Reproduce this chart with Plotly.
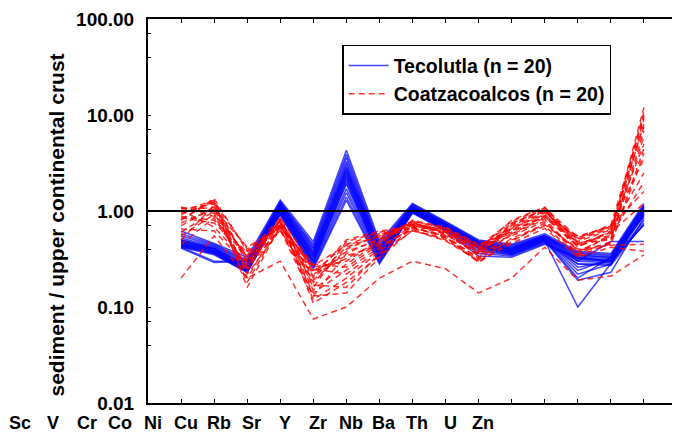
import plotly.graph_objects as go

# Tick labels as printed along the bottom of the chart
elements = ["Sc", "V", "Cr", "Co", "Ni", "Cu", "Rb", "Sr", "Y", "Zr", "Nb", "Ba", "Th", "U", "Zn"]
# Sample positions along the x axis (15 points per profile)
positions = list(range(1, 16))

# Tecolutla (n = 20) normalized values
tecolutla = [
    [0.62, 0.46, 0.33, 1.30, 0.48, 4.30, 0.48, 1.20, 0.78, 0.50, 0.45, 0.58, 0.38, 0.36, 1.20],
    [0.58, 0.45, 0.31, 1.25, 0.45, 3.90, 0.45, 1.18, 0.76, 0.49, 0.44, 0.56, 0.37, 0.35, 1.15],
    [0.55, 0.44, 0.30, 1.22, 0.43, 3.60, 0.43, 1.15, 0.75, 0.48, 0.43, 0.55, 0.36, 0.34, 1.12],
    [0.52, 0.43, 0.29, 1.20, 0.41, 3.30, 0.42, 1.13, 0.74, 0.47, 0.42, 0.55, 0.35, 0.33, 1.10],
    [0.50, 0.42, 0.28, 1.18, 0.40, 3.10, 0.41, 1.12, 0.73, 0.47, 0.41, 0.54, 0.34, 0.33, 1.08],
    [0.50, 0.41, 0.27, 1.15, 0.38, 2.90, 0.40, 1.10, 0.72, 0.46, 0.41, 0.54, 0.33, 0.32, 1.05],
    [0.48, 0.41, 0.27, 1.13, 0.37, 2.80, 0.39, 1.08, 0.71, 0.46, 0.40, 0.53, 0.32, 0.31, 1.02],
    [0.48, 0.40, 0.26, 1.12, 0.36, 2.70, 0.38, 1.07, 0.70, 0.45, 0.40, 0.53, 0.31, 0.30, 1.00],
    [0.47, 0.40, 0.26, 1.10, 0.35, 2.60, 0.37, 1.06, 0.70, 0.45, 0.39, 0.52, 0.30, 0.29, 0.98],
    [0.46, 0.39, 0.25, 1.08, 0.34, 2.50, 0.36, 1.05, 0.69, 0.44, 0.39, 0.52, 0.28, 0.28, 0.96],
    [0.46, 0.39, 0.25, 1.06, 0.33, 2.40, 0.35, 1.04, 0.68, 0.44, 0.38, 0.51, 0.26, 0.30, 0.94],
    [0.45, 0.38, 0.25, 1.05, 0.32, 2.30, 0.35, 1.03, 0.68, 0.43, 0.38, 0.51, 0.24, 0.32, 0.92],
    [0.45, 0.38, 0.24, 1.03, 0.31, 2.20, 0.34, 1.02, 0.67, 0.43, 0.37, 0.50, 0.22, 0.28, 0.90],
    [0.44, 0.37, 0.24, 1.02, 0.30, 2.10, 0.33, 1.01, 0.66, 0.42, 0.37, 0.50, 0.20, 0.33, 0.88],
    [0.44, 0.37, 0.24, 1.00, 0.30, 2.00, 0.33, 1.00, 0.66, 0.42, 0.36, 0.49, 0.19, 0.23, 0.85],
    [0.43, 0.36, 0.23, 0.98, 0.29, 1.90, 0.32, 0.99, 0.65, 0.41, 0.36, 0.49, 0.10, 0.28, 0.80],
    [0.43, 0.36, 0.23, 0.96, 0.28, 1.70, 0.31, 0.98, 0.65, 0.40, 0.35, 0.48, 0.30, 0.48, 0.48],
    [0.42, 0.35, 0.23, 0.94, 0.27, 1.55, 0.30, 0.97, 0.64, 0.38, 0.35, 0.47, 0.28, 0.27, 0.75],
    [0.42, 0.30, 0.30, 0.92, 0.26, 1.40, 0.29, 0.96, 0.63, 0.36, 0.34, 0.46, 0.33, 0.30, 0.72],
    [0.41, 0.29, 0.30, 0.90, 0.25, 1.30, 0.28, 0.95, 0.62, 0.34, 0.33, 0.45, 0.32, 0.30, 0.72],
]

# Coatzacoalcos (n = 20) normalized values
coatzacoalcos = [
    [1.00, 1.10, 0.30, 0.78, 0.20, 0.42, 0.55, 0.75, 0.62, 0.40, 0.80, 1.10, 0.45, 0.60, 12.0],
    [0.80, 1.35, 0.38, 0.72, 0.26, 0.30, 0.50, 0.78, 0.66, 0.44, 0.65, 0.95, 0.52, 0.72, 9.5],
    [1.08, 0.95, 0.24, 0.85, 0.16, 0.48, 0.60, 0.70, 0.58, 0.35, 0.72, 1.05, 0.38, 0.55, 11.0],
    [0.92, 1.25, 0.40, 0.66, 0.28, 0.26, 0.45, 0.80, 0.68, 0.45, 0.58, 0.85, 0.55, 0.68, 7.5],
    [0.60, 1.00, 0.33, 0.80, 0.23, 0.45, 0.58, 0.66, 0.55, 0.32, 0.75, 1.02, 0.42, 0.62, 8.0],
    [1.05, 1.18, 0.20, 0.76, 0.13, 0.36, 0.52, 0.74, 0.60, 0.38, 0.62, 0.90, 0.47, 0.50, 6.0],
    [0.85, 0.75, 0.35, 0.70, 0.25, 0.22, 0.40, 0.72, 0.64, 0.42, 0.55, 0.78, 0.35, 0.58, 10.0],
    [0.98, 1.30, 0.28, 0.82, 0.18, 0.40, 0.56, 0.77, 0.57, 0.36, 0.68, 0.98, 0.50, 0.66, 5.0],
    [0.75, 1.05, 0.42, 0.68, 0.21, 0.50, 0.62, 0.68, 0.53, 0.30, 0.52, 0.72, 0.40, 0.45, 4.0],
    [1.10, 0.88, 0.26, 0.74, 0.15, 0.28, 0.47, 0.79, 0.66, 0.43, 0.78, 1.08, 0.53, 0.70, 3.5],
    [0.50, 1.15, 0.31, 0.78, 0.24, 0.34, 0.44, 0.64, 0.50, 0.31, 0.60, 0.88, 0.44, 0.52, 6.8],
    [0.95, 1.22, 0.22, 0.64, 0.12, 0.20, 0.38, 0.70, 0.61, 0.39, 0.70, 1.00, 0.48, 0.64, 2.5],
    [0.88, 0.80, 0.37, 0.84, 0.27, 0.44, 0.54, 0.73, 0.59, 0.34, 0.57, 0.82, 0.36, 0.48, 9.0],
    [0.70, 1.10, 0.18, 0.72, 0.14, 0.24, 0.42, 0.66, 0.56, 0.37, 0.66, 0.92, 0.46, 0.56, 2.0],
    [1.02, 0.68, 0.29, 0.62, 0.19, 0.38, 0.50, 0.75, 0.63, 0.41, 0.74, 1.04, 0.51, 0.69, 1.6],
    [0.55, 0.92, 0.34, 0.76, 0.17, 0.16, 0.36, 0.62, 0.52, 0.33, 0.50, 0.70, 0.34, 0.46, 4.5],
    [0.82, 1.28, 0.16, 0.70, 0.22, 0.32, 0.48, 0.71, 0.60, 0.40, 0.63, 0.86, 0.43, 0.60, 1.2],
    [0.65, 0.62, 0.27, 0.80, 0.11, 0.18, 0.34, 0.68, 0.54, 0.29, 0.48, 0.75, 0.39, 0.44, 0.45],
    [0.45, 0.85, 0.25, 0.66, 0.13, 0.14, 0.33, 0.63, 0.49, 0.30, 0.46, 0.66, 0.33, 0.42, 0.38],
    [0.20, 0.55, 0.20, 0.30, 0.075, 0.10, 0.20, 0.30, 0.25, 0.14, 0.20, 0.42, 0.19, 0.21, 0.35],
]

y_tickvals = [0.01, 0.1, 1, 10, 100]
y_ticktext = ["0.01", "0.10", "1.00", "10.00", "100.00"]
y_minor = [0.04, 0.07, 0.4, 0.7, 4, 7, 40, 70]

FONT = "Liberation Sans, Arial, sans-serif"
X_MIN, X_MAX = 0, 16

fig = go.Figure()

for i, vals in enumerate(tecolutla):
    fig.add_trace(go.Scatter(
        x=positions, y=vals, mode="lines",
        line=dict(color="rgba(0,0,255,0.72)", width=1.5),
        name="Tecolutla (n = 20)", legendgroup="t", showlegend=(i == 0),
        legendrank=1,
    ))

for i, vals in enumerate(coatzacoalcos):
    fig.add_trace(go.Scatter(
        x=positions, y=vals, mode="lines",
        line=dict(color="rgba(255,0,0,0.8)", width=1.5, dash="6px,4px"),
        name="Coatzacoalcos (n = 20)", legendgroup="c", showlegend=(i == 0),
        legendrank=2,
    ))

# reference line at 1.0
fig.add_shape(type="line", xref="paper", x0=0, x1=1, yref="y", y0=1, y1=1,
              line=dict(color="black", width=2), layer="above")

# bottom labels (printed offset from the data positions, as in the original)
for i, lab in enumerate(elements):
    xp = (i - 3.86 - X_MIN) / (X_MAX - X_MIN)
    fig.add_annotation(x=xp, xref="paper", y=-0.052, yref="paper",
                       text=lab, showarrow=False, xanchor="center", yanchor="middle",
                       font=dict(family=FONT, size=18, color="black", weight="bold"))

# y axis title
fig.add_annotation(x=-0.173, xref="paper", y=0.4635, yref="paper",
                   text="sediment / upper continental crust", textangle=-90,
                   showarrow=False, xanchor="center", yanchor="middle",
                   font=dict(family=FONT, size=21, color="black", weight="bold"))

fig.update_layout(
    width=672, height=427,
    margin=dict(l=140, r=1, t=11, b=32),
    paper_bgcolor="white", plot_bgcolor="white",
    font=dict(family=FONT, color="black"),
    xaxis=dict(range=[X_MIN, X_MAX], tickvals=list(range(0, 17)), showticklabels=False,
               ticks="inside", ticklen=4, tickcolor="black", tickwidth=1,
               showline=True, linecolor="black", linewidth=2, mirror="ticks",
               showgrid=False, zeroline=False),
    yaxis=dict(type="log", range=[-2, 2], tickvals=y_tickvals, ticktext=y_ticktext,
               ticks="inside", ticklen=3, tickcolor="black", tickwidth=1,
               ticklabelstandoff=8,
               minor=dict(tickvals=y_minor, ticks="inside", ticklen=3, tickcolor="black", showgrid=False),
               showline=True, linecolor="black", linewidth=2, mirror="ticks",
               showgrid=False, zeroline=False,
               tickfont=dict(family=FONT, size=19, color="black", weight="bold")),
    legend=dict(x=0.367, y=0.933, xanchor="left", yanchor="top",
                bgcolor="white", bordercolor="black", borderwidth=1.5,
                font=dict(family=FONT, size=19.5, color="black", weight="bold"),
                itemwidth=40, traceorder="normal", tracegroupgap=0),
    showlegend=True,
)

fig.write_html("out.html")
